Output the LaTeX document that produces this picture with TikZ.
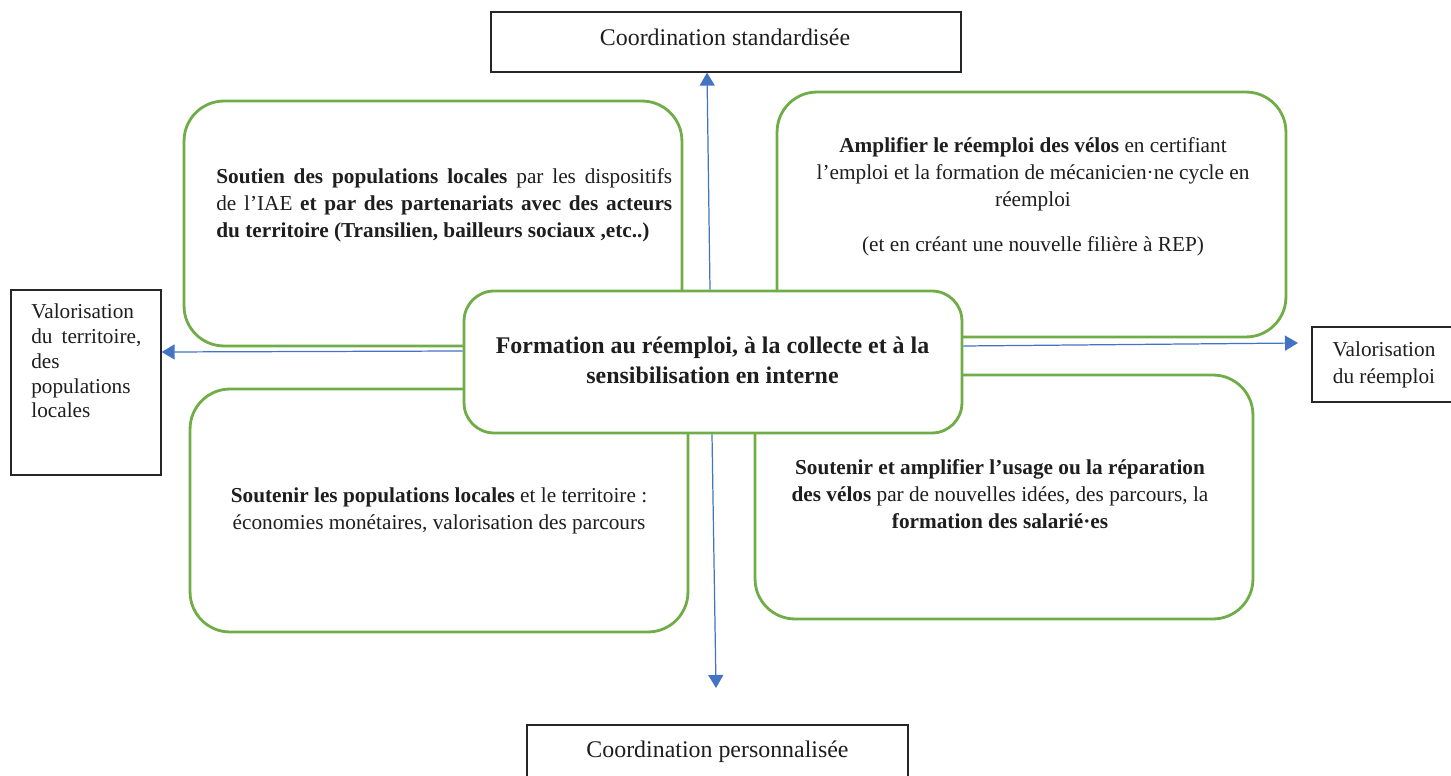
\documentclass[tikz,border=0pt]{standalone}
\usepackage{fontspec}
\setmainfont{Liberation Serif}
\usetikzlibrary{arrows.meta,calc}
\definecolor{gr}{HTML}{70AD47}
\definecolor{bl}{HTML}{4472C4}
\definecolor{tx}{HTML}{1E1E1E}
\begin{document}
\begin{tikzpicture}[x=0.02cm,y=-0.02cm,
 gbox/.style={draw=gr,line width=1.6pt,fill=white,rounded corners=0.8cm,inner sep=0},
 kbox/.style={draw=black!85,line width=0.7pt,fill=white,inner sep=0},
 arr/.style={draw=bl,line width=0.7pt,-{Triangle[width=0.3cm,length=0.26cm]}},
 body/.style={font=\fontsize{12.1pt}{15.4pt}\selectfont,inner sep=0,text=tx},
 big/.style={font=\fontsize{13.6pt}{17.6pt}\selectfont,inner sep=0,text=tx}]
\useasboundingbox (0,0) rectangle (1451,776);
\clip (0,0) rectangle (1451,776);
% green boxes
\node[gbox,minimum width=9.96cm,minimum height=4.9cm] (tl) at (433,223.5) {};
\node[gbox,minimum width=10.18cm,minimum height=4.9cm] (tr) at (1031.5,214.5) {};
\node[gbox,minimum width=9.96cm,minimum height=4.86cm] (bl) at (439,510.5) {};
\node[gbox,minimum width=9.96cm,minimum height=4.88cm] (br) at (1004,497) {};
\node[gbox,rounded corners=0.6cm,minimum width=9.96cm,minimum height=2.84cm] (ctr) at (713,362) {};
% black boxes
\node[kbox,minimum width=9.4cm,minimum height=1.2cm] (std) at (726,42) {};
\node[kbox,minimum width=7.62cm,minimum height=1.3cm] (pers) at (717.5,757.5) {};
\node[kbox,minimum width=3cm,minimum height=3.7cm] (vterr) at (86,382.5) {};
\node[kbox,minimum width=2.96cm,minimum height=1.5cm] (vreem) at (1386,364.5) {};
% texts (anchor base = baseline of the last line)
\node[body,anchor=base west,align=left] (tltx) at (216,238)
 {\makebox[9.12cm][s]{\textbf{Soutien des populations locales} par les dispositifs}\\
  \makebox[9.12cm][s]{de l'IAE \textbf{et par des partenariats avec des acteurs}}\\
  \textbf{du territoire (Transilien, bailleurs sociaux ,etc..)}};
\node[body,anchor=base,align=center] (trtx) at (1033,251.5)
 {\textbf{Amplifier le réemploi des vélos} en certifiant\\
  l'emploi et la formation de mécanicien·ne cycle en\\
  réemploi\\[0.35cm]
  (et en créant une nouvelle filière à REP)};
\node[body,anchor=base,align=center] (bltx) at (439,530)
 {\textbf{Soutenir les populations locales} et le territoire :\\
  économies monétaires, valorisation des parcours};
\node[body,anchor=base,align=center] (brtx) at (1000,529)
 {\textbf{Soutenir et amplifier l'usage ou la réparation}\\
  \textbf{des vélos} par de nouvelles idées, des parcours, la\\
  \textbf{formation des salarié·es}};
\node[big,font=\fontsize{13.6pt}{17.6pt}\selectfont\bfseries,anchor=base,align=center] (ctrtx) at (712.5,384)
 {Formation au réemploi, à la collecte et à la\\ sensibilisation en interne};
\node[big,anchor=base] (stdtx) at (725,46) {Coordination standardisée};
\node[big,anchor=base] (perstx) at (717.5,757) {Coordination personnalisée};
\node[body,font=\fontsize{12.1pt}{14.2pt}\selectfont,anchor=base west,align=left] (vterrtx) at (31,418)
 {Valorisation\\ \makebox[2.2cm][s]{du territoire,}\\ des\\ populations\\ locales};
\node[body,anchor=base,align=center] (vreemtx) at (1384,384) {Valorisation\\ du réemploi};
% arrows
\coordinate (dn) at (716,688);
\coordinate (rt) at (1298,343);
\draw[arr] ([xshift=-0.06cm]ctr.north) -- ([xshift=-0.38cm]std.south);
\draw[arr] ([xshift=-0.02cm]ctr.south) -- (dn);
\draw[arr] ([yshift=0.22cm]ctr.west) -- ([yshift=0.61cm]vterr.east);
\draw[arr] ([yshift=0.32cm]ctr.east) -- (rt);
\end{tikzpicture}
\end{document}
